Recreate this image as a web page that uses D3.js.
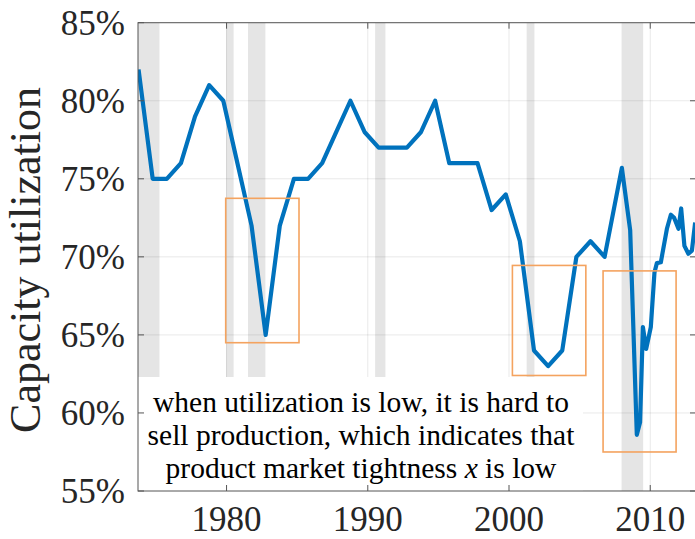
<!DOCTYPE html>
<html>
<head>
<meta charset="utf-8">
<script src="https://cdn.jsdelivr.net/npm/d3@7"></script>
<style>
  body { margin: 0; background: #fff; }
  svg { display: block; }
  text { font-family: "Liberation Serif", "Times New Roman", Tinos, "DejaVu Serif", serif; }
</style>
</head>
<body>
<svg id="chart"></svg>
<script>
// capacity utilization, annual until 2007 then finer
const dates = [1973.77, 1974.77, 1975.77, 1976.77, 1977.77, 1978.77, 1979.77, 1980.77,
  1981.77, 1982.77, 1983.77, 1984.77, 1985.77, 1986.77, 1987.77, 1988.77, 1989.77,
  1990.77, 1991.77, 1992.77, 1993.77, 1994.77, 1995.77, 1996.77, 1997.77, 1998.77,
  1999.77, 2000.77, 2001.77, 2002.77, 2003.77, 2004.77, 2005.77, 2006.77,
  2007.99, 2008.58, 2009.05, 2009.28, 2009.48, 2009.71, 2010.04, 2010.30, 2010.47,
  2010.75, 2011.18, 2011.46, 2011.69, 2012.00, 2012.19, 2012.42, 2012.70, 2012.95, 2013.18];
const utilization = [82, 75, 75, 76, 79, 81, 80, 76,
  72, 65, 72, 75, 75, 76, 78, 80, 78,
  77, 77, 77, 78, 80, 76, 76, 76, 73,
  74, 71, 64, 63, 64, 70, 71, 70,
  75.7, 71.7, 58.6, 59.4, 65.5, 64.1, 65.5, 69.0, 69.6,
  69.65, 71.8, 72.7, 72.5, 71.8, 73.1, 70.7, 70.2, 70.4, 72.2];

// recession periods [start, end]
const recessions = [[1973.7, 1975.25], [1979.97, 1980.5], [1981.52, 1982.75],
  [1990.52, 1991.25], [2001.25, 2001.8], [2007.97, 2009.5]];

// highlighted low-utilization episodes [x0, x1, y0, y1]
const boxes = [[1979.94, 1985.13, 64.5, 73.75], [2000.24, 2005.44, 62.4, 69.45],
  [2006.66, 2011.83, 57.5, 69.1]];

const xTicks = [1980, 1990, 2000, 2010];
const yTicks = [55, 60, 65, 70, 75, 80, 85];
const noteLines = ["when utilization is low, it is hard to",
  "sell production, which indicates that",
  "product market tightness |x| is low"];

const width = 695, height = 539;
const mLeft = 138, mRight = 696, mTop = 22.7, mBottom = 491;

const svg = d3.select("#chart").attr("width", width).attr("height", height);

const x = d3.scaleLinear().domain([1973.73, 2013.24]).range([mLeft, mRight]);
const y = d3.scaleLinear().domain([55, 85]).range([mBottom, mTop]);

svg.append("clipPath").attr("id", "plot")
  .append("rect").attr("x", mLeft).attr("y", mTop)
  .attr("width", mRight - mLeft).attr("height", mBottom - mTop);

const plot = svg.append("g").attr("clip-path", "url(#plot)");

// shaded recessions
plot.selectAll("rect.rec").data(recessions).join("rect")
  .attr("class", "rec")
  .attr("x", d => x(d[0])).attr("width", d => x(d[1]) - x(d[0]))
  .attr("y", mTop).attr("height", mBottom - mTop)
  .attr("fill", "#e5e5e5");

// grid
plot.selectAll("line.gx").data(xTicks).join("line")
  .attr("class", "gx")
  .attr("x1", d => x(d)).attr("x2", d => x(d))
  .attr("y1", mTop).attr("y2", mBottom)
  .attr("stroke", "#262626").attr("stroke-opacity", 0.1);
plot.selectAll("line.gy").data(yTicks).join("line")
  .attr("class", "gy")
  .attr("y1", d => y(d)).attr("y2", d => y(d))
  .attr("x1", mLeft).attr("x2", mRight)
  .attr("stroke", "#262626").attr("stroke-opacity", 0.1);

// the series
const line = d3.line().x((d, i) => x(dates[i])).y(d => y(d));
plot.append("path").datum(utilization)
  .attr("d", line)
  .attr("fill", "none")
  .attr("stroke", "#0072bd")
  .attr("stroke-width", 4.2)
  .attr("stroke-linejoin", "round");

// orange highlight boxes
plot.selectAll("rect.box").data(boxes).join("rect")
  .attr("class", "box")
  .attr("x", d => x(d[0])).attr("width", d => x(d[1]) - x(d[0]))
  .attr("y", d => y(d[3])).attr("height", d => y(d[2]) - y(d[3]))
  .attr("fill", "none")
  .attr("stroke", "#f4a35f")
  .attr("stroke-width", 1.6);

// annotation with white background
svg.append("rect")
  .attr("x", mLeft).attr("y", 377)
  .attr("width", 445).attr("height", mBottom - 377)
  .attr("fill", "#fff");

const note = svg.append("text")
  .attr("font-size", 29.5)
  .attr("fill", "#000").attr("text-anchor", "middle");
noteLines.forEach(function (s, i) {
  const t = note.append("tspan").attr("x", 361).attr("y", 411.5 + i * 33);
  s.split("|").forEach(function (part, j) {
    t.append("tspan").text(part).attr("font-style", j == 1 ? "italic" : null);
  });
});

// axes box and ticks
const axisColor = "#555";
svg.append("rect")
  .attr("x", mLeft).attr("y", mTop)
  .attr("width", mRight - mLeft).attr("height", mBottom - mTop)
  .attr("fill", "none").attr("stroke", axisColor).attr("stroke-width", 1);

const ticks = svg.append("g").attr("stroke", axisColor);
xTicks.forEach(function (t) {
  ticks.append("line").attr("x1", x(t)).attr("x2", x(t)).attr("y1", mBottom).attr("y2", mBottom - 6);
  ticks.append("line").attr("x1", x(t)).attr("x2", x(t)).attr("y1", mTop).attr("y2", mTop + 6);
});
yTicks.forEach(function (t) {
  ticks.append("line").attr("y1", y(t)).attr("y2", y(t)).attr("x1", mLeft).attr("x2", mLeft + 6);
  ticks.append("line").attr("y1", y(t)).attr("y2", y(t)).attr("x1", mRight).attr("x2", mRight - 6);
});

// tick labels
svg.append("g").selectAll("text").data(yTicks).join("text")
  .attr("x", 125).attr("y", d => y(d))
  .attr("dy", "0.34em")
  .attr("text-anchor", "end")
  .attr("font-size", 35)
  .attr("fill", "#262626")
  .text(d => d + "%");

svg.append("g").selectAll("text").data(xTicks).join("text")
  .attr("x", d => x(d)).attr("y", 531)
  .attr("text-anchor", "middle")
  .attr("font-size", 35)
  .attr("fill", "#262626")
  .text(d => d);

// axis title
svg.append("text")
  .attr("transform", "translate(40,260) rotate(-90)")
  .attr("text-anchor", "middle")
  .attr("font-size", 44)
  .attr("fill", "#262626")
  .text("Capacity utilization");
</script>
</body>
</html>
